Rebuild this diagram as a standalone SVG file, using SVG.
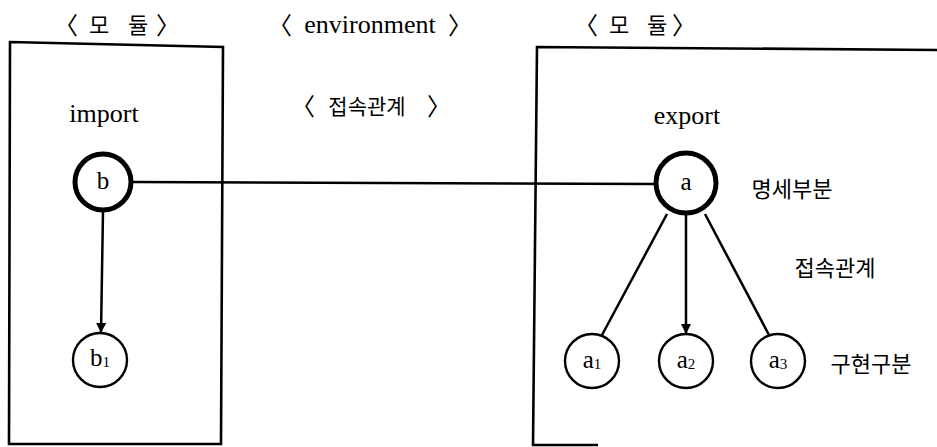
<svg xmlns="http://www.w3.org/2000/svg" width="937" height="447" viewBox="0 0 937 447">
<style>
.box{fill:none;stroke:#000;stroke-width:2.6}
.ln{fill:none;stroke:#000;stroke-width:2.5}
.thick{fill:#fff;stroke:#000;stroke-width:5}
.thin{fill:#fff;stroke:#000;stroke-width:2.4}
.lat{font-family:"Liberation Serif","DejaVu Serif",serif;font-size:26px;fill:#000;text-anchor:middle}
.kr{font-family:"Noto Sans CJK KR","Noto Sans",sans-serif;font-size:22px;fill:#000;text-anchor:middle}
.br{font-family:"Noto Sans CJK KR","Noto Sans",sans-serif;font-size:24px;fill:#000;text-anchor:middle}
.nd{font-family:"Liberation Serif","DejaVu Serif",serif;font-size:25px;fill:#000;text-anchor:middle}
.sub{font-size:15px}
</style>
<defs>
<marker id="arr" viewBox="0 0 10 10" refX="10" refY="5" markerWidth="11" markerHeight="10" markerUnits="userSpaceOnUse" orient="auto">
<path d="M0,0 L10,5 L0,10 Z" fill="#000"/>
</marker>
</defs>
<g id="labels">
<text class="br" x="66" y="34">〈</text>
<text class="kr" x="99" y="33">모</text>
<text class="kr" x="138" y="33">듈</text>
<text class="br" x="168" y="34">〉</text>
<text class="br" x="280" y="34">〈</text>
<text class="lat" x="370" y="33">environment</text>
<text class="br" x="460" y="34">〉</text>
<text class="br" x="586" y="34">〈</text>
<text class="kr" x="619" y="33">모</text>
<text class="kr" x="657" y="33">듈</text>
<text class="br" x="684" y="34">〉</text>
<text class="br" x="303" y="115">〈</text>
<text class="kr" x="367" y="114" style="font-size:21px">접속관계</text>
<text class="br" x="439" y="115">〉</text>
<text class="lat" x="104" y="122">import</text>
<text class="lat" x="687" y="124">export</text>
<text class="kr" x="792" y="197">명세부분</text>
<text class="kr" x="835" y="276">접속관계</text>
<text class="kr" x="871" y="372">구현구분</text>
</g>
<g id="module-left">
<path class="box" d="M10,42 L223,47 L221,444 L9,444 Z"/>
</g>
<g id="module-right">
<path class="box" d="M940,50 L537,47 L533,445 L598,445"/>
</g>
<g id="connectors">
<line class="ln" x1="133" y1="182" x2="655" y2="184"/>
<line class="ln" x1="103" y1="211" x2="101" y2="333" marker-end="url(#arr)"/>
<line class="ln" x1="667" y1="214" x2="602" y2="335"/>
<line class="ln" x1="686" y1="215" x2="686" y2="334" marker-end="url(#arr)"/>
<line class="ln" x1="705" y1="214" x2="769" y2="335"/>
</g>
<g id="node-b">
<circle class="thick" cx="103" cy="182" r="28"/>
<text class="nd" x="103" y="189">b</text>
</g>
<g id="node-b1">
<circle class="thin" cx="100" cy="360" r="27"/>
<text class="nd" x="100" y="366">b<tspan class="sub" dy="1">1</tspan></text>
</g>
<g id="node-a">
<circle class="thick" cx="686" cy="183" r="30"/>
<text class="nd" x="686" y="190">a</text>
</g>
<g id="node-a1">
<circle class="thin" cx="592" cy="361" r="27"/>
<text class="nd" x="592" y="368">a<tspan class="sub" dy="1">1</tspan></text>
</g>
<g id="node-a2">
<circle class="thin" cx="686" cy="361" r="27"/>
<text class="nd" x="686" y="368">a<tspan class="sub" dy="1">2</tspan></text>
</g>
<g id="node-a3">
<circle class="thin" cx="778" cy="361" r="27"/>
<text class="nd" x="778" y="368">a<tspan class="sub" dy="1">3</tspan></text>
</g>
</svg>
